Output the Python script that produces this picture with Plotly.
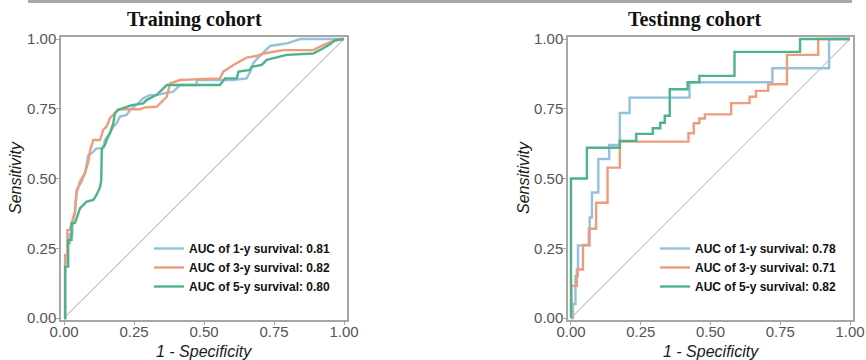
import plotly.graph_objects as go

# ---------------- data ----------------
series_names = ["AUC of 1-y survival", "AUC of 3-y survival", "AUC of 5-y survival"]
train_auc = ["0.81", "0.82", "0.80"]
test_auc = ["0.78", "0.71", "0.82"]
panel_titles = ["Training cohort", "Testinng cohort"]
tick_vals = [0, 0.25, 0.5, 0.75, 1.0]
tick_text = ["0.00", "0.25", "0.50", "0.75", "1.00"]

train_1y_fpr = [0, 0.004, 0.004, 0.012, 0.012, 0.021, 0.021, 0.03, 0.03, 0.039, 0.045, 0.063, 0.075, 0.087, 0.099,
                0.116, 0.14, 0.146, 0.164, 0.176, 0.188, 0.2, 0.224, 0.236, 0.265, 0.283, 0.307, 0.331, 0.355, 0.39,
                0.414, 0.474, 0.474, 0.605, 0.652, 0.665, 0.676, 0.69, 0.712, 0.736, 0.8, 0.843, 1.0]
train_1y_tpr = [0, 0, 0.20, 0.20, 0.268, 0.268, 0.30, 0.30, 0.34, 0.375, 0.459, 0.489, 0.519, 0.584, 0.59,
                0.608, 0.608, 0.638, 0.662, 0.686, 0.698, 0.722, 0.728, 0.746, 0.769, 0.788, 0.799, 0.799, 0.805, 0.811,
                0.835, 0.835, 0.853, 0.853, 0.859, 0.883, 0.913, 0.93, 0.951, 0.975, 0.985, 1.0, 1.0]

train_3y_fpr = [0, 0.004, 0.004, 0.012, 0.012, 0.021, 0.03, 0.039, 0.045, 0.057, 0.075, 0.087, 0.093, 0.105, 0.129,
                0.14, 0.152, 0.164, 0.176, 0.194, 0.271, 0.29, 0.331, 0.355, 0.367, 0.379, 0.414, 0.557, 0.569, 0.605,
                0.635, 0.652, 0.69, 0.718, 0.783, 0.89, 0.926, 0.962, 1.0]
train_3y_tpr = [0, 0, 0.226, 0.226, 0.315, 0.315, 0.35, 0.381, 0.448, 0.489, 0.52, 0.56, 0.60, 0.638, 0.638,
                0.674, 0.686, 0.716, 0.728, 0.748, 0.748, 0.755, 0.757, 0.78, 0.793, 0.841, 0.853, 0.859, 0.883, 0.907,
                0.925, 0.933, 0.94, 0.949, 0.96, 0.96, 0.978, 0.993, 1.0]

train_5y_fpr = [0, 0.004, 0.004, 0.015, 0.015, 0.027, 0.027, 0.039, 0.051, 0.057, 0.081, 0.105, 0.116, 0.129, 0.133,
                0.135, 0.146, 0.152, 0.164, 0.176, 0.182, 0.194, 0.242, 0.283, 0.295, 0.331, 0.355, 0.367, 0.557, 0.575,
                0.617, 0.623, 0.664, 0.67, 0.706, 0.724, 0.795, 0.89, 0.926, 0.95, 0.968, 1.0]
train_5y_tpr = [0, 0, 0.184, 0.184, 0.28, 0.28, 0.34, 0.34, 0.375, 0.393, 0.417, 0.423, 0.441, 0.47, 0.495,
                0.608, 0.62, 0.638, 0.662, 0.698, 0.734, 0.746, 0.763, 0.769, 0.781, 0.80, 0.823, 0.835, 0.835, 0.859,
                0.859, 0.883, 0.889, 0.90, 0.907, 0.925, 0.943, 0.948, 0.967, 0.981, 0.996, 1.0]

test_1y_fpr = [0, 0.007, 0.016, 0.025, 0.067, 0.075, 0.098, 0.137, 0.175, 0.21, 0.425, 0.722, 0.925, 1.0]
test_1y_tpr = [0, 0.05, 0.15, 0.26, 0.36, 0.45, 0.57, 0.62, 0.735, 0.79, 0.845, 0.895, 1.0, 1.0]

test_3y_fpr = [0, 0.002, 0.021, 0.043, 0.064, 0.09, 0.131, 0.175, 0.421, 0.44, 0.46, 0.48, 0.574, 0.64, 0.663,
               0.707, 0.774, 0.886, 1.0]
test_3y_tpr = [0, 0.115, 0.174, 0.262, 0.32, 0.413, 0.539, 0.632, 0.662, 0.698, 0.715, 0.73, 0.77, 0.793, 0.814,
               0.838, 0.943, 1.0, 1.0]

test_5y_fpr = [0, 0.0, 0.057, 0.175, 0.234, 0.293, 0.32, 0.336, 0.354, 0.418, 0.46, 0.586, 0.821, 1.0]
test_5y_tpr = [0, 0.5, 0.61, 0.635, 0.66, 0.68, 0.70, 0.725, 0.82, 0.845, 0.868, 0.954, 1.0, 1.0]

diag = [0, 1]

colors = ["#93C1DE", "#EE9C7E", "#4FB389"]
LW = 2.4

fig = go.Figure()

# diagonals
for xa, ya in [("x", "y"), ("x2", "y2")]:
    fig.add_trace(go.Scatter(x=diag, y=diag, mode="lines", xaxis=xa, yaxis=ya,
                             line=dict(color="#C8C8C8", width=1.2), showlegend=False, hoverinfo="skip"))

train = [(train_1y_fpr, train_1y_tpr), (train_3y_fpr, train_3y_tpr), (train_5y_fpr, train_5y_tpr)]
test = [(test_1y_fpr, test_1y_tpr), (test_3y_fpr, test_3y_tpr), (test_5y_fpr, test_5y_tpr)]

for i, (fx, ty) in enumerate(train):
    fig.add_trace(go.Scatter(x=fx, y=ty, mode="lines", xaxis="x", yaxis="y",
                             line=dict(color=colors[i], width=LW),
                             name=f"<b>{series_names[i]}: {train_auc[i]}</b>", legend="legend"))
for i, (fx, ty) in enumerate(test):
    fig.add_trace(go.Scatter(x=fx, y=ty, mode="lines", xaxis="x2", yaxis="y2",
                             line=dict(color=colors[i], width=LW, shape="hv"),
                             name=f"<b>{series_names[i]}: {test_auc[i]}</b>", legend="legend2"))

W, H = 866, 360
axis_common = dict(
    tickvals=tick_vals, ticktext=tick_text, showgrid=False, zeroline=False, automargin=False,
    showline=True, mirror=True, linecolor="#A6A6A6", linewidth=1.5,
    ticks="outside", ticklen=3, tickcolor="#A6A6A6", tickwidth=1.2,
    tickfont=dict(family="Liberation Sans, Arial", size=15, color="#555555"),
)
rng = [-3 / 280, 1 + 3 / 280]
yrng = [-2 / 279, 1 + 2 / 279]
ydom = [1 - 320 / H, 1 - 37 / H]

leg_common = dict(xanchor="left", yanchor="top", bgcolor="rgba(0,0,0,0)", tracegroupgap=0,
                  font=dict(family="Liberation Sans, Arial", size=12, color="#111111"), itemclick=False)

fig.update_layout(
    template="none",
    width=W, height=H, margin=dict(l=0, r=0, t=0, b=0, autoexpand=False),
    plot_bgcolor="white", paper_bgcolor="white",
    xaxis=dict(domain=[61 / W, 347 / W], range=rng, anchor="y", ticklabelstandoff=-6, **axis_common),
    yaxis=dict(domain=ydom, range=yrng, anchor="x", ticklabelstandoff=-3, **axis_common),
    xaxis2=dict(domain=[568 / W, 853 / W], range=rng, anchor="y2", ticklabelstandoff=-6, **axis_common),
    yaxis2=dict(domain=ydom, range=yrng, anchor="x2", ticklabelstandoff=-3, **axis_common),
    legend=dict(x=149 / W, y=1 - 234 / H, **leg_common),
    legend2=dict(x=655 / W, y=1 - 234 / H, **leg_common),
    showlegend=True,
)

title_font = dict(family="Liberation Serif, Times New Roman", size=20, color="#111111")
fig.add_annotation(text=f"<b>{panel_titles[0]}</b>", x=194 / W, y=1 - 19 / H, xref="paper", yref="paper",
                   showarrow=False, font=title_font, xanchor="center", yanchor="middle")
fig.add_annotation(text=f"<b>{panel_titles[1]}</b>", x=695 / W, y=1 - 19 / H, xref="paper", yref="paper",
                   showarrow=False, font=title_font, xanchor="center", yanchor="middle")

ax_title_font = dict(family="Liberation Sans, Arial", size=16, color="#1a1a1a")
for cx in [204, 711]:
    fig.add_annotation(text="<i>1 - Specificity</i>", x=cx / W, y=1 - 351 / H, xref="paper", yref="paper",
                       showarrow=False, font=ax_title_font, xanchor="center", yanchor="middle")
for cx in [15, 523]:
    fig.add_annotation(text="<i>Sensitivity</i>", x=cx / W, y=1 - 178 / H, xref="paper", yref="paper",
                       showarrow=False, font=ax_title_font, textangle=-90, xanchor="center", yanchor="middle")

# top separator rule
fig.add_shape(type="line", xref="paper", yref="paper", x0=28 / W, x1=852 / W, y0=1 - 1.5 / H, y1=1 - 1.5 / H,
              line=dict(color="#A9A9A9", width=3))

fig.write_html("out.html", config={"displayModeBar": False},
               post_script="document.body.style.margin='0';document.body.style.padding='0';")
